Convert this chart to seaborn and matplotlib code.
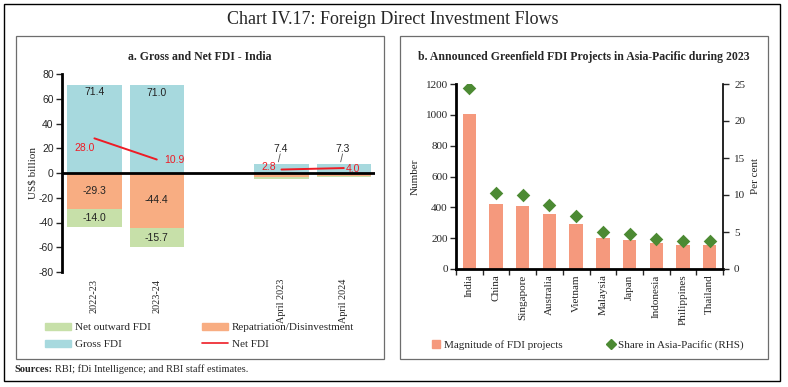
import matplotlib
matplotlib.use("Agg")
import matplotlib.pyplot as plt
import seaborn as sns
import numpy as np
import pandas as pd
from matplotlib.patches import Rectangle
from matplotlib.lines import Line2D

# ---------------- data ----------------
periods = ["2022-23", "2023-24", "April 2023", "April 2024"]
gross_fdi = [71.4, 71.0, 7.4, 7.3]
repatriation = [-29.3, -44.4, -3.3, -2.3]
net_outward = [-14.0, -15.7, -1.3, -1.0]
net_fdi = [28.0, 10.9, 2.8, 4.0]

countries = ["India", "China", "Singapore", "Australia", "Vietnam", "Malaysia",
             "Japan", "Indonesia", "Philippines", "Thailand"]
projects = [1005, 424, 411, 355, 295, 204, 191, 166, 155, 155]
share = [24.5, 10.3, 10.0, 8.7, 7.2, 5.0, 4.7, 4.0, 3.8, 3.8]

# ---------------- style ----------------
sns.set_theme(style="white")
plt.rcParams["font.family"] = ["Liberation Serif", "DejaVu Serif"]
SANS = ["Liberation Sans", "DejaVu Sans"]

C_GROSS = "#A7D9DE"
C_REPAT = "#F8AD82"
C_OUT = "#C7E0A9"
C_NET = "#EE1C25"
C_BAR = "#F5997D"
C_DIA = "#4C8A33"

W, H = 788, 387
fig = plt.figure(figsize=(W / 100, H / 100), dpi=100)
fig.patch.set_facecolor("white")


def fx(x):
    return x / W


def fy(y):
    return 1 - y / H


# borders
fig.add_artist(Rectangle((fx(4), fy(381)), fx(776), (377) / H, transform=fig.transFigure,
                         fill=False, edgecolor="black", linewidth=1.0))
fig.add_artist(Rectangle((fx(16), fy(359)), fx(368), (323) / H, transform=fig.transFigure,
                         fill=False, edgecolor="#6d6d6d", linewidth=0.9))
fig.add_artist(Rectangle((fx(400), fy(359)), fx(368), (323) / H, transform=fig.transFigure,
                         fill=False, edgecolor="#6d6d6d", linewidth=0.9))

fig.text(fx(393), fy(19), "Chart IV.17: Foreign Direct Investment Flows", ha="center",
         va="center", fontsize=13)
fig.text(fx(200), fy(57), "a. Gross and Net FDI - India", ha="center", va="center",
         fontsize=8.5, fontweight="bold")
fig.text(fx(584), fy(57), "b. Announced Greenfield FDI Projects in Asia-Pacific during 2023",
         ha="center", va="center", fontsize=8.5, fontweight="bold")
fig.text(fx(14), fy(369), "Sources:", ha="left", va="center", fontsize=7.5, fontweight="bold")
fig.text(fx(55), fy(369), "RBI; fDi Intelligence; and RBI staff estimates.", ha="left",
         va="center", fontsize=7.5)

# ---------------- panel a ----------------
axa = fig.add_axes([fx(62), fy(272), fx(313), 198 / H])
pos = [0, 1, 3, 4]
bw = 0.87
axa.bar(pos, gross_fdi, width=bw, color=C_GROSS, linewidth=0)
axa.bar(pos, repatriation, width=bw, color=C_REPAT, linewidth=0)
axa.bar(pos, net_outward, width=bw, bottom=repatriation, color=C_OUT, linewidth=0)
axa.plot(pos[:2], net_fdi[:2], color=C_NET, linewidth=1.4)
axa.plot(pos[2:], net_fdi[2:], color=C_NET, linewidth=1.4)
axa.axhline(0, color="black", linewidth=2)

axa.set_xlim(-0.52, 4.5)
axa.set_ylim(-80, 80)
axa.set_yticks(np.arange(-80, 81, 20))
axa.set_yticklabels([str(v) for v in range(-80, 81, 20)], family=SANS, fontsize=7.5)
axa.set_xticks(pos)
axa.set_xticklabels(periods, rotation=90, fontsize=7.3)
axa.tick_params(axis="x", length=0, pad=5)
axa.tick_params(axis="y", length=4, width=1, direction="out", pad=2, left=True)
for s in ["top", "right", "bottom"]:
    axa.spines[s].set_visible(False)
axa.spines["left"].set_linewidth(2)
axa.spines["left"].set_color("black")
axa.set_ylabel("US$ billion", fontsize=8, labelpad=1)
axa.set_facecolor("none")

lab_kw = dict(ha="center", va="center", fontsize=7.5, family=SANS, color="#222222")
for i, p in enumerate(pos):
    if i < 2:
        axa.text(p, gross_fdi[i] - 6, f"{gross_fdi[i]:.1f}", **lab_kw)
        axa.text(p, repatriation[i] / 2, f"{repatriation[i]:.1f}", **lab_kw)
        axa.text(p, repatriation[i] + net_outward[i] / 2, f"{net_outward[i]:.1f}", **lab_kw)
    else:
        axa.text(p - 0.02, 19.5, f"{gross_fdi[i]:.1f}", **lab_kw)
        axa.plot([p - 0.02, p - 0.05], [15.5, 9.0], color="#555555", linewidth=0.6)
axa.text(-0.15, 20, "28.0", ha="center", va="center", fontsize=7.5, family=SANS, color=C_NET)
axa.text(1.28, 10.4, "10.9", ha="center", va="center", fontsize=7.5, family=SANS, color=C_NET)
axa.text(2.8, 4.5, "2.8", ha="center", va="center", fontsize=7.5, family=SANS, color=C_NET)
axa.text(4.15, 3.6, "4.0", ha="center", va="center", fontsize=7.5, family=SANS, color=C_NET)

handles_a = [
    Rectangle((0, 0), 1, 1, color=C_OUT),
    Rectangle((0, 0), 1, 1, color=C_GROSS),
    Rectangle((0, 0), 1, 1, color=C_REPAT),
    Line2D([0], [0], color=C_NET, linewidth=1.2),
]
labels_a = ["Net outward FDI", "Gross FDI", "Repatriation/Disinvestment", "Net FDI"]
fig.legend(handles_a, labels_a, ncol=2, loc="center left",
           bbox_to_anchor=(fx(45), fy(336)), frameon=False, fontsize=8,
           handlelength=2.35, handleheight=0.6, columnspacing=4.6, labelspacing=0.65,
           handletextpad=0.35, borderaxespad=0, borderpad=0)

# ---------------- panel b ----------------
axb = fig.add_axes([fx(456), fy(269), fx(267), 185 / H])
dfb = pd.DataFrame({"country": countries, "projects": projects, "share": share})
sns.barplot(data=dfb, x="country", y="projects", order=countries, color=C_BAR,
            width=0.5, saturation=1, linewidth=0, ax=axb)
axb.set_ylim(0, 1200)
axb.set_xlim(-0.5, 9.5)
axb.set_yticks(np.arange(0, 1201, 200))
axb.tick_params(axis="y", labelsize=8, length=4, width=1, direction="out", left=True, pad=2)
axb.set_xticks(range(len(countries)))
axb.set_xticklabels(countries, rotation=90, fontsize=8)
axb.set_xticks(np.arange(-0.5, 10, 1), minor=True)
axb.tick_params(axis="x", which="major", length=0, pad=4)
axb.tick_params(axis="x", which="minor", length=4, width=1, direction="out", bottom=True)
axb.set_xlabel("")
axb.set_ylabel("Number", fontsize=8, labelpad=4)
for s in ["top", "right"]:
    axb.spines[s].set_visible(False)
axb.spines["left"].set_linewidth(2)
axb.spines["bottom"].set_linewidth(2)
axb.spines["left"].set_color("black")
axb.spines["bottom"].set_color("black")

axr = axb.twinx()
sns.scatterplot(data=dfb, x="country", y="share", marker="D", s=48, color=C_DIA,
                edgecolor=C_DIA, linewidth=0, ax=axr, legend=False, zorder=5)
axr.set_ylim(0, 25)
axr.set_xlim(-0.5, 9.5)
axr.set_yticks(np.arange(0, 26, 5))
axr.tick_params(axis="y", labelsize=8, length=4, width=1, direction="out", right=True, pad=4)
axr.set_ylabel("Per cent", fontsize=8, labelpad=4)
for s in ["top", "left", "bottom"]:
    axr.spines[s].set_visible(False)
axr.spines["right"].set_linewidth(1.2)
axr.spines["right"].set_color("black")

handles_b = [
    Line2D([0], [0], marker="s", linestyle="none", markersize=5.5, color=C_BAR),
    Line2D([0], [0], marker="D", linestyle="none", markersize=5, color=C_DIA),
]
fig.legend(handles_b, ["Magnitude of FDI projects", "Share in Asia-Pacific (RHS)"], ncol=2,
           loc="center left", bbox_to_anchor=(fx(432), fy(345)), frameon=False, fontsize=8,
           handlelength=0.8, columnspacing=3.9, handletextpad=0.3, borderaxespad=0,
           borderpad=0)

fig.savefig("out.png", dpi=100)
